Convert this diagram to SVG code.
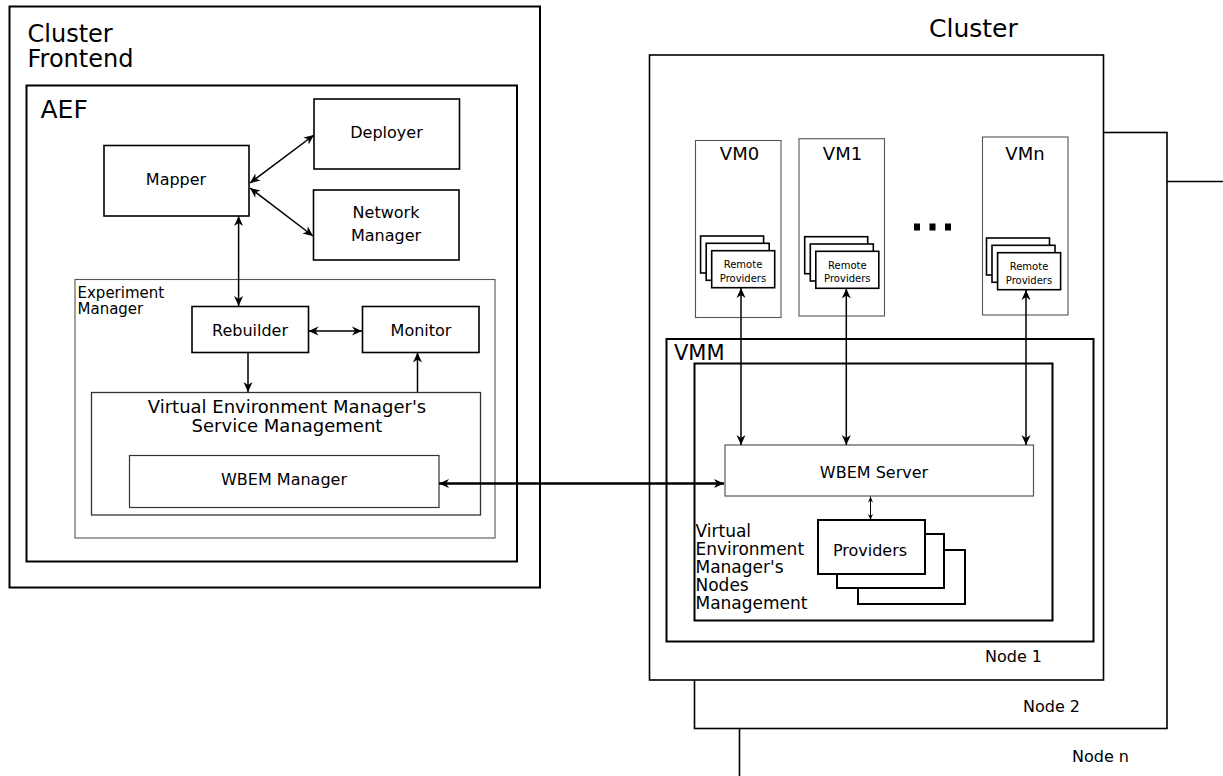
<svg xmlns="http://www.w3.org/2000/svg" width="1223" height="776" viewBox="0 0 1223 776">
<defs>
<style>
text{font-family:"DejaVu Sans","Liberation Sans",sans-serif;fill:#000}
.box{fill:#fff;stroke:#000;stroke-width:1.6}
.thick{fill:#fff;stroke:#000;stroke-width:2}
.thin{fill:#fff;stroke:#555;stroke-width:1.1}
.c{text-anchor:middle}
.t25{font-size:25px}
.t24{font-size:24px}
.t21{font-size:21px}
.t18{font-size:18px}
.t17{font-size:17px}
.t16{font-size:16px}
.t15{font-size:15px}
.t10{font-size:10px}
.con{fill:none;stroke:#000;stroke-width:1.5}
.conb{fill:none;stroke:#000;stroke-width:2.4}
.cons{fill:none;stroke:#000;stroke-width:1}
</style>
<marker id="ah" viewBox="-11 -6 12 12" refX="0" refY="0" markerWidth="12" markerHeight="12" markerUnits="userSpaceOnUse" orient="auto-start-reverse">
<path d="M0,0 L-10,-4.5 L-7,0 L-10,4.5 Z" fill="#000"/>
</marker>
<marker id="ahs" viewBox="-7 -4 8 8" refX="0" refY="0" markerWidth="8" markerHeight="8" markerUnits="userSpaceOnUse" orient="auto-start-reverse">
<path d="M0,0 L-6,-2.5 L-4,0 L-6,2.5 Z" fill="#000"/>
</marker>
</defs>
<rect width="1223" height="776" fill="#fff"/>

<g id="cluster-frontend">
<rect class="thick" x="9.5" y="6.5" width="530.5" height="581"/>
<text class="t24" x="27.5" y="42">Cluster</text>
<text class="t24" x="27.5" y="67">Frontend</text>
</g>
<g id="aef">
<rect class="thick" x="26.5" y="85.5" width="490.5" height="476"/>
<text class="t25" x="40.5" y="118">AEF</text>
</g>
<g id="deployer">
<rect class="box" x="314" y="99" width="145.5" height="70"/>
<text class="t16 c" x="386.5" y="138">Deployer</text>
</g>
<g id="mapper">
<rect class="box" x="104" y="145.5" width="145" height="70.5"/>
<text class="t16 c" x="176" y="185">Mapper</text>
</g>
<g id="network-manager">
<rect class="box" x="313.5" y="190" width="145.5" height="70"/>
<text class="t16 c" x="386" y="218">Network</text>
<text class="t16 c" x="386" y="241">Manager</text>
</g>
<g id="experiment-manager">
<rect class="thin" x="75" y="279.5" width="420" height="258.5"/>
<text class="t15" x="77.5" y="297.5">Experiment</text>
<text class="t15" x="77.5" y="314">Manager</text>
</g>
<g id="rebuilder">
<rect class="box" x="192" y="306.5" width="116.5" height="46"/>
<text class="t16 c" x="250" y="336">Rebuilder</text>
</g>
<g id="monitor">
<rect class="box" x="362.5" y="306.5" width="116.5" height="46"/>
<text class="t16 c" x="421" y="336">Monitor</text>
</g>
<g id="vem-service">
<rect fill="#fff" stroke="#333" stroke-width="1.3" x="91.5" y="392.5" width="389" height="122.5"/>
<text class="t18 c" x="287" y="413">Virtual Environment Manager's</text>
<text class="t18 c" x="287" y="432">Service Management</text>
</g>
<g id="wbem-manager">
<rect fill="#fff" stroke="#333" stroke-width="1.2" x="129.5" y="455.5" width="309.5" height="52"/>
<text class="t16 c" x="284" y="485">WBEM Manager</text>
</g>

<g id="cluster-title">
<text class="t25" x="929" y="37">Cluster</text>
</g>
<g id="node-n">
<path d="M1167,181.5 H1223 M739.5,728.5 V776" fill="none" stroke="#000" stroke-width="1.6"/>
<text class="t16" x="1072" y="761.5">Node n</text>
</g>
<g id="node-2">
<rect class="box" x="694.5" y="132.5" width="472.5" height="596"/>
<text class="t16" x="1023" y="711.5">Node 2</text>
</g>
<g id="node-1">
<rect class="box" x="649.5" y="55" width="454" height="625"/>
<text class="t16" x="985" y="662">Node 1</text>
</g>
<g id="vm0">
<rect class="thin" x="695.5" y="140.5" width="85.5" height="177"/>
<text class="t18 c" x="739.5" y="159.5">VM0</text>
<rect class="box" x="700.6" y="236" width="63" height="37"/>
<rect class="box" x="706.2" y="243.3" width="63" height="37"/>
<rect class="box" x="711.7" y="250.7" width="63" height="37"/>
<text class="t10 c" x="743" y="268">Remote</text>
<text class="t10 c" x="743" y="281.5">Providers</text>
</g>
<g id="vm1">
<rect class="thin" x="799" y="138.7" width="85.5" height="177.3"/>
<text class="t18 c" x="842.5" y="159.5">VM1</text>
<rect class="box" x="804.7" y="236.7" width="63" height="37"/>
<rect class="box" x="810.3" y="244" width="63" height="37"/>
<rect class="box" x="815.8" y="251.3" width="63" height="37"/>
<text class="t10 c" x="847.3" y="268.5">Remote</text>
<text class="t10 c" x="847.3" y="282">Providers</text>
</g>
<g id="dots">
<rect x="914" y="223.5" width="6" height="7" fill="#000"/>
<rect x="929.5" y="223.5" width="6" height="7" fill="#000"/>
<rect x="945" y="223.5" width="6" height="7" fill="#000"/>
</g>
<g id="vmn">
<rect class="thin" x="982.5" y="137" width="85.5" height="178"/>
<text class="t18 c" x="1025" y="159.5">VMn</text>
<rect class="box" x="986.5" y="238" width="63" height="37"/>
<rect class="box" x="992" y="245.3" width="63" height="37"/>
<rect class="box" x="997.6" y="252.7" width="63" height="37"/>
<text class="t10 c" x="1029" y="270">Remote</text>
<text class="t10 c" x="1029" y="283.5">Providers</text>
</g>
<g id="vmm">
<rect class="thick" x="666.5" y="339" width="427" height="302.5"/>
<text class="t21" x="674" y="359.5">VMM</text>
</g>
<g id="vem-nodes">
<rect class="thick" x="694.5" y="363.5" width="358" height="257"/>
<text class="t17" x="695.5" y="537">Virtual</text>
<text class="t17" x="695.5" y="555">Environment</text>
<text class="t17" x="695.5" y="573">Manager's</text>
<text class="t17" x="695.5" y="591">Nodes</text>
<text class="t17" x="695.5" y="609">Management</text>
</g>
<g id="wbem-server">
<rect fill="#fff" stroke="#555" stroke-width="1.2" x="725" y="445" width="308.5" height="51"/>
<text class="t16 c" x="874" y="478">WBEM Server</text>
</g>
<g id="providers">
<rect class="thick" x="858" y="550" width="107" height="54"/>
<rect class="thick" x="837" y="534" width="107" height="54"/>
<rect class="thick" x="818" y="520" width="107" height="54"/>
<text class="t16 c" x="870" y="556">Providers</text>
</g>

<g id="connectors">
<path class="con" d="M250,183 L314,135" marker-start="url(#ah)" marker-end="url(#ah)"/>
<path class="con" d="M250,188 L313,236" marker-start="url(#ah)" marker-end="url(#ah)"/>
<path class="con" d="M238.6,216 V306" marker-start="url(#ah)" marker-end="url(#ah)"/>
<path class="con" d="M308.5,331 H362" marker-start="url(#ah)" marker-end="url(#ah)"/>
<path class="con" d="M248,352.5 V392" marker-end="url(#ah)"/>
<path class="con" d="M417.5,392 V352.5" marker-end="url(#ah)"/>
<path class="conb" d="M439,483.5 H724" marker-start="url(#ah)" marker-end="url(#ah)"/>
<path class="con" d="M741,288 V445" marker-start="url(#ah)" marker-end="url(#ah)"/>
<path class="con" d="M846.3,288.5 V445" marker-start="url(#ah)" marker-end="url(#ah)"/>
<path class="con" d="M1026,290 V445" marker-start="url(#ah)" marker-end="url(#ah)"/>
<path class="cons" d="M870.5,496.5 V520" marker-start="url(#ahs)" marker-end="url(#ahs)"/>
</g>
</svg>
